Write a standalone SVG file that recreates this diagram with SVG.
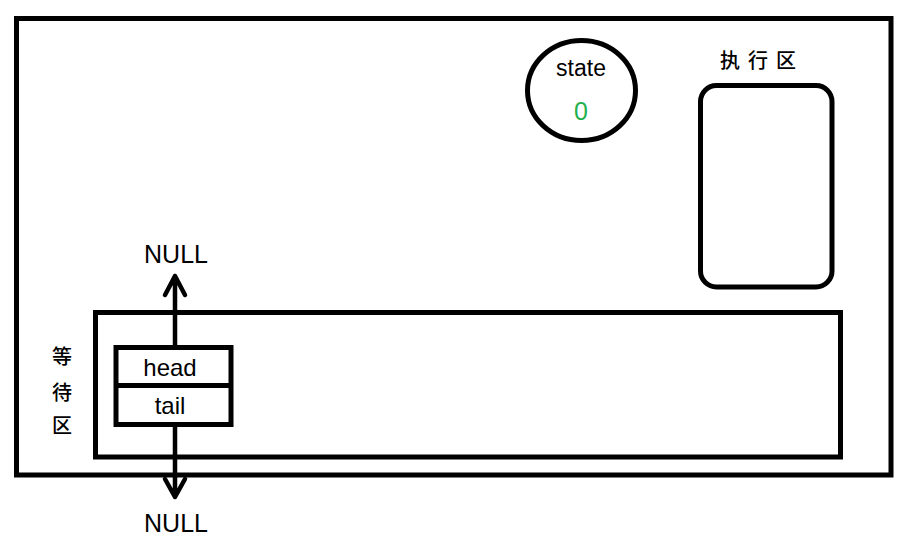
<svg xmlns="http://www.w3.org/2000/svg" width="921" height="546" viewBox="0 0 921 546">
<style>
.box{fill:none;stroke:#000;stroke-width:5}
.txt{font-family:"Liberation Sans","Noto Sans",sans-serif;fill:#000;text-anchor:middle}
.cjk{font-family:"Noto Sans CJK SC",sans-serif;fill:#000;text-anchor:middle;font-size:20px;font-weight:500}
.arrow{fill:none;stroke:#000;stroke-width:4.5;stroke-linecap:round;stroke-linejoin:round}
</style>
<rect width="921" height="546" fill="#fff"/>
<g id="outer"><rect class="box" x="16.5" y="18.5" width="874.5" height="456.5"/></g>
<g id="state">
<ellipse class="box" cx="581.5" cy="90.5" rx="54" ry="50"/>
<text class="txt" x="581" y="76" font-size="23">state</text>
<text class="txt" x="581" y="119.5" font-size="25" style="fill:#22b14c">0</text>
</g>
<g id="exec">
<text class="cjk" x="762" y="68" letter-spacing="8">执行区</text>
<rect class="box" x="700.5" y="85.5" width="131.5" height="201.5" rx="16"/>
</g>
<g id="wait">
<rect class="box" x="95.5" y="312.5" width="745" height="144.5"/>
<text class="cjk" x="62" y="364">等</text>
<text class="cjk" x="62" y="400">待</text>
<text class="cjk" x="62" y="433">区</text>
</g>
<g id="queue">
<rect class="box" x="116" y="347.5" width="115" height="77"/>
<line x1="116" y1="385.5" x2="231" y2="385.5" stroke="#000" stroke-width="5"/>
<text class="txt" x="170" y="376" font-size="24">head</text>
<text class="txt" x="170" y="414" font-size="24">tail</text>
</g>
<g id="connectors">
<path class="arrow" d="M175 347 V276 M165 295 L175 276 L185 295"/>
<path class="arrow" d="M175 425 V497 M165 479 L175 497 L185 479"/>
</g>
<g id="null-top"><text class="txt" x="176" y="263" font-size="25">NULL</text></g>
<g id="null-bottom"><text class="txt" x="176" y="532" font-size="25">NULL</text></g>
</svg>
